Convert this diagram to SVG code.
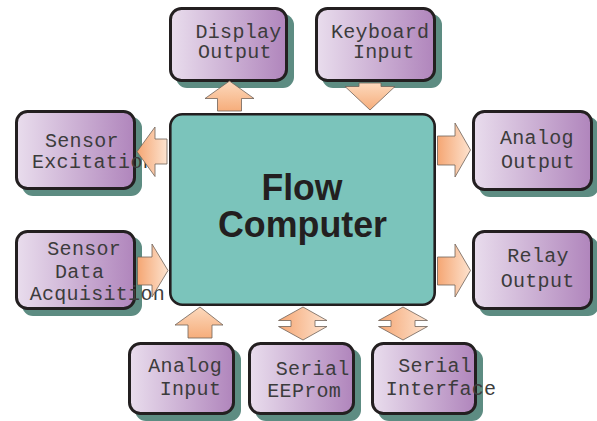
<svg xmlns="http://www.w3.org/2000/svg" width="597" height="421" viewBox="0 0 597 421">
  <defs>
    <linearGradient id="boxFill" x1="0" y1="0" x2="1" y2="0">
      <stop offset="0" stop-color="#e9dded"/>
      <stop offset="1" stop-color="#b085bc"/>
    </linearGradient>
    <linearGradient id="arrowH" x1="0" y1="0" x2="1" y2="0">
      <stop offset="0" stop-color="#f5a673"/>
      <stop offset="1" stop-color="#fde3cf"/>
    </linearGradient>
    <linearGradient id="arrowV" x1="0" y1="0" x2="0" y2="1">
      <stop offset="0" stop-color="#fcd9bd"/>
      <stop offset="1" stop-color="#f6ad7b"/>
    </linearGradient>
  </defs>
  <style>
    .shadow { fill: #5d8c82; }
    .box { fill: url(#boxFill); stroke: #231f20; stroke-width: 3; }
    .label { font-family: "Liberation Mono", "Courier New", monospace; font-size: 20px; letter-spacing: 0.3px; fill: #3c3c3c; }
    .main { fill: #7bc4bb; stroke: #231f20; stroke-width: 2.6; }
    .title { font-family: "Liberation Sans", Arial, sans-serif; font-weight: bold; font-size: 36.5px; fill: #231f20; text-anchor: middle; }
    .arrow-h { fill: url(#arrowH); stroke: #6f6259; stroke-width: 0.8; }
    .arrow-v { fill: url(#arrowV); stroke: #6f6259; stroke-width: 0.8; }
  </style>

  <rect width="597" height="421" fill="#ffffff"/>

  <!-- central unit -->
  <g id="flow-computer">
    <rect class="main" x="170.3" y="114.3" width="264.4" height="190.4" rx="12"/>
    <text class="title" x="302" y="199.5" textLength="81" lengthAdjust="spacingAndGlyphs">Flow</text>
    <text class="title" x="302.5" y="237.3" textLength="169" lengthAdjust="spacingAndGlyphs">Computer</text>
  </g>

  <!-- peripheral blocks -->
  <g id="display-output">
    <rect class="shadow" x="176" y="14" width="118" height="74" rx="11"/>
    <rect class="box" x="170.5" y="8.5" width="116" height="72" rx="11"/>
    <text class="label" x="195.5" y="37.5">Display</text>
    <text class="label" x="198" y="58.3">Output</text>
  </g>

  <g id="keyboard-input">
    <rect class="shadow" x="322" y="14" width="120" height="74" rx="11"/>
    <rect class="box" x="316.5" y="8.5" width="118" height="72" rx="11"/>
    <text class="label" x="331" y="37.5">Keyboard</text>
    <text class="label" x="353" y="58.3">Input</text>
  </g>

  <g id="sensor-excitation">
    <rect class="shadow" x="22" y="117" width="120" height="79" rx="11"/>
    <rect class="box" x="16.5" y="111.5" width="118" height="77" rx="11"/>
    <text class="label" x="45" y="146.7">Sensor</text>
    <text class="label" x="32" y="168.3">Excitation</text>
  </g>

  <g id="sensor-data-acquisition">
    <rect class="shadow" x="22" y="237" width="120" height="79" rx="11"/>
    <rect class="box" x="16.5" y="231.5" width="118" height="77" rx="11"/>
    <text class="label" x="47.3" y="255">Sensor</text>
    <text class="label" x="55" y="278.3">Data</text>
    <text class="label" x="29.7" y="300">Acquisition</text>
  </g>

  <g id="analog-output">
    <rect class="shadow" x="479" y="117" width="120" height="80" rx="11"/>
    <rect class="box" x="473.5" y="111.5" width="118" height="78" rx="11"/>
    <text class="label" x="500" y="144.3">Analog</text>
    <text class="label" x="501" y="167.7">Output</text>
  </g>

  <g id="relay-output">
    <rect class="shadow" x="479" y="237" width="120" height="79" rx="11"/>
    <rect class="box" x="473.5" y="231.5" width="118" height="77" rx="11"/>
    <text class="label" x="507.3" y="262.3">Relay</text>
    <text class="label" x="500.7" y="286.7">Output</text>
  </g>

  <g id="analog-input">
    <rect class="shadow" x="135" y="349" width="106" height="72" rx="11"/>
    <rect class="box" x="129.5" y="343.5" width="104" height="70" rx="11"/>
    <text class="label" x="148.3" y="371.7">Analog</text>
    <text class="label" x="159.7" y="395">Input</text>
  </g>

  <g id="serial-eeprom">
    <rect class="shadow" x="255" y="349" width="106" height="72" rx="11"/>
    <rect class="box" x="249.5" y="343.5" width="104" height="70" rx="11"/>
    <text class="label" x="275.7" y="374.5">Serial</text>
    <text class="label" x="267.3" y="396.7">EEProm</text>
  </g>

  <g id="serial-interface">
    <rect class="shadow" x="378" y="349" width="105" height="72" rx="11"/>
    <rect class="box" x="372.5" y="343.5" width="103" height="70" rx="11"/>
    <text class="label" x="398.3" y="371.7">Serial</text>
    <text class="label" x="385.7" y="395">Interface</text>
  </g>

  <!-- block arrows between the computer and its peripherals -->
  <g id="connectors">
    <path class="arrow-v" d="M217.5,111 V98.5 H205 L229.5,81 L254,98.5 H241.5 V111 Z"/>
    <path class="arrow-v" d="M359,83 V86.5 H345 L370,110 L395,86.5 H381 V83 Z"/>
    <path class="arrow-h" d="M167,139 H155 V127 L137,151.7 L155,176.5 V164 H167 Z"/>
    <path class="arrow-h" d="M137.5,257 H152 V244 L168,270.5 L152,297 V285 H137.5 Z"/>
    <path class="arrow-h" d="M437.5,136 H455 V123 L470.5,150 L455,177 V165 H437.5 Z"/>
    <path class="arrow-h" d="M437.5,257 H455 V244 L470.5,270.5 L455,297 V285 H437.5 Z"/>
    <path class="arrow-v" d="M188,338 V325 H175 L200,307 L223,325 H212 V338 Z"/>
    <path class="arrow-h" d="M303,307 L327,320.5 H315 V326.5 H327 L303,340 L278.5,326.5 H291 V320.5 H278.5 Z"/>
    <path class="arrow-h" d="M403,307 L427.5,320.5 H415 V326.5 H427.5 L403,340 L378.5,326.5 H391 V320.5 H378.5 Z"/>
  </g>
</svg>
